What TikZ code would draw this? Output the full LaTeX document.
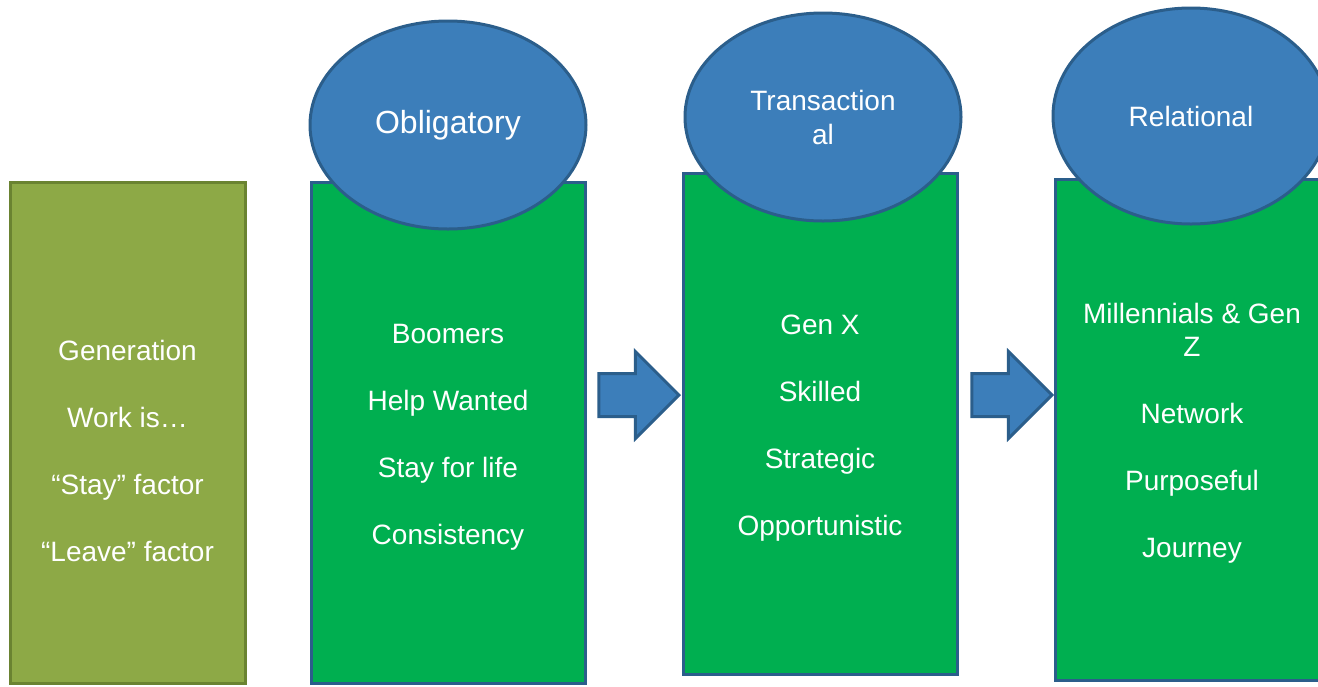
\documentclass[tikz,border=0pt]{standalone}
\usepackage{fontspec}
\setmainfont{Liberation Sans}
\usetikzlibrary{shapes.geometric,shapes.arrows,positioning}
\definecolor{olivefill}{HTML}{8DA946}
\definecolor{olivedraw}{HTML}{6A8331}
\definecolor{boxgreen}{HTML}{00AF50}
\definecolor{ovalblue}{HTML}{3C7EBA}
\definecolor{edgeblue}{HTML}{2B5E8B}

\begin{document}
\begin{tikzpicture}[x=1pt,y=-1pt,line width=3pt,text=white,
font=\fontsize{28}{34}\selectfont]
\tikzstyle{gen box}=[rectangle,fill=olivefill,draw=olivedraw,minimum width=235pt,minimum height=501pt]
\tikzstyle{era box}=[rectangle,fill=boxgreen,draw=edgeblue,minimum width=274pt,minimum height=501pt]
\tikzstyle{era oval}=[ellipse,fill=ovalblue,draw=edgeblue,inner sep=0pt,minimum width=276pt,minimum height=208pt,align=center]
\tikzstyle{era text}=[align=center]
\tikzstyle{flow arrow}=[single arrow,fill=ovalblue,draw=edgeblue,inner xsep=0pt,inner ysep=20pt,minimum height=80pt,single arrow head extend=22pt]

\useasboundingbox (0,0) rectangle (1318,686);

\node[gen box] (gen)   at (127.5,432.5) {};
\node[era box] (oblig) at (448,433) {};
\node[era box] (trans) at (820,424) {};
\node[era box] (rel)   at (1192,430) {};

\node[era text] (gentext)   at ([yshift=-18pt]gen.center) {Generation\\[33pt]Work is…\\[33pt]“Stay” factor\\[33pt]“Leave” factor};
\node[era text] (obligtext) at ([yshift=-4pt]oblig.center) {Boomers\\[33pt]Help Wanted\\[33pt]Stay for life\\[33pt]Consistency};
\node[era text] (transtext) at ([yshift=-4pt]trans.center) {Gen X\\[33pt]Skilled\\[33pt]Strategic\\[33pt]Opportunistic};
\node[era text] (reltext)   at ([yshift=-3pt]rel.center) {Millennials \& Gen\\[-1pt]Z\\[33pt]Network\\[33pt]Purposeful\\[33pt]Journey};

\node[era oval,font=\fontsize{32}{38}\selectfont] (obligtop) at (448,125) {Obligatory};
\node[era oval] (transtop) at (823,117) {Transaction\\al};
\node[era oval,minimum height=216pt] (reltop) at (1191,116) {Relational};

\node[flow arrow,anchor=tip] (arr1) at (681,395) {};
\node[flow arrow,anchor=tip] (arr2) at (1054,395) {};
\end{tikzpicture}
\end{document}
